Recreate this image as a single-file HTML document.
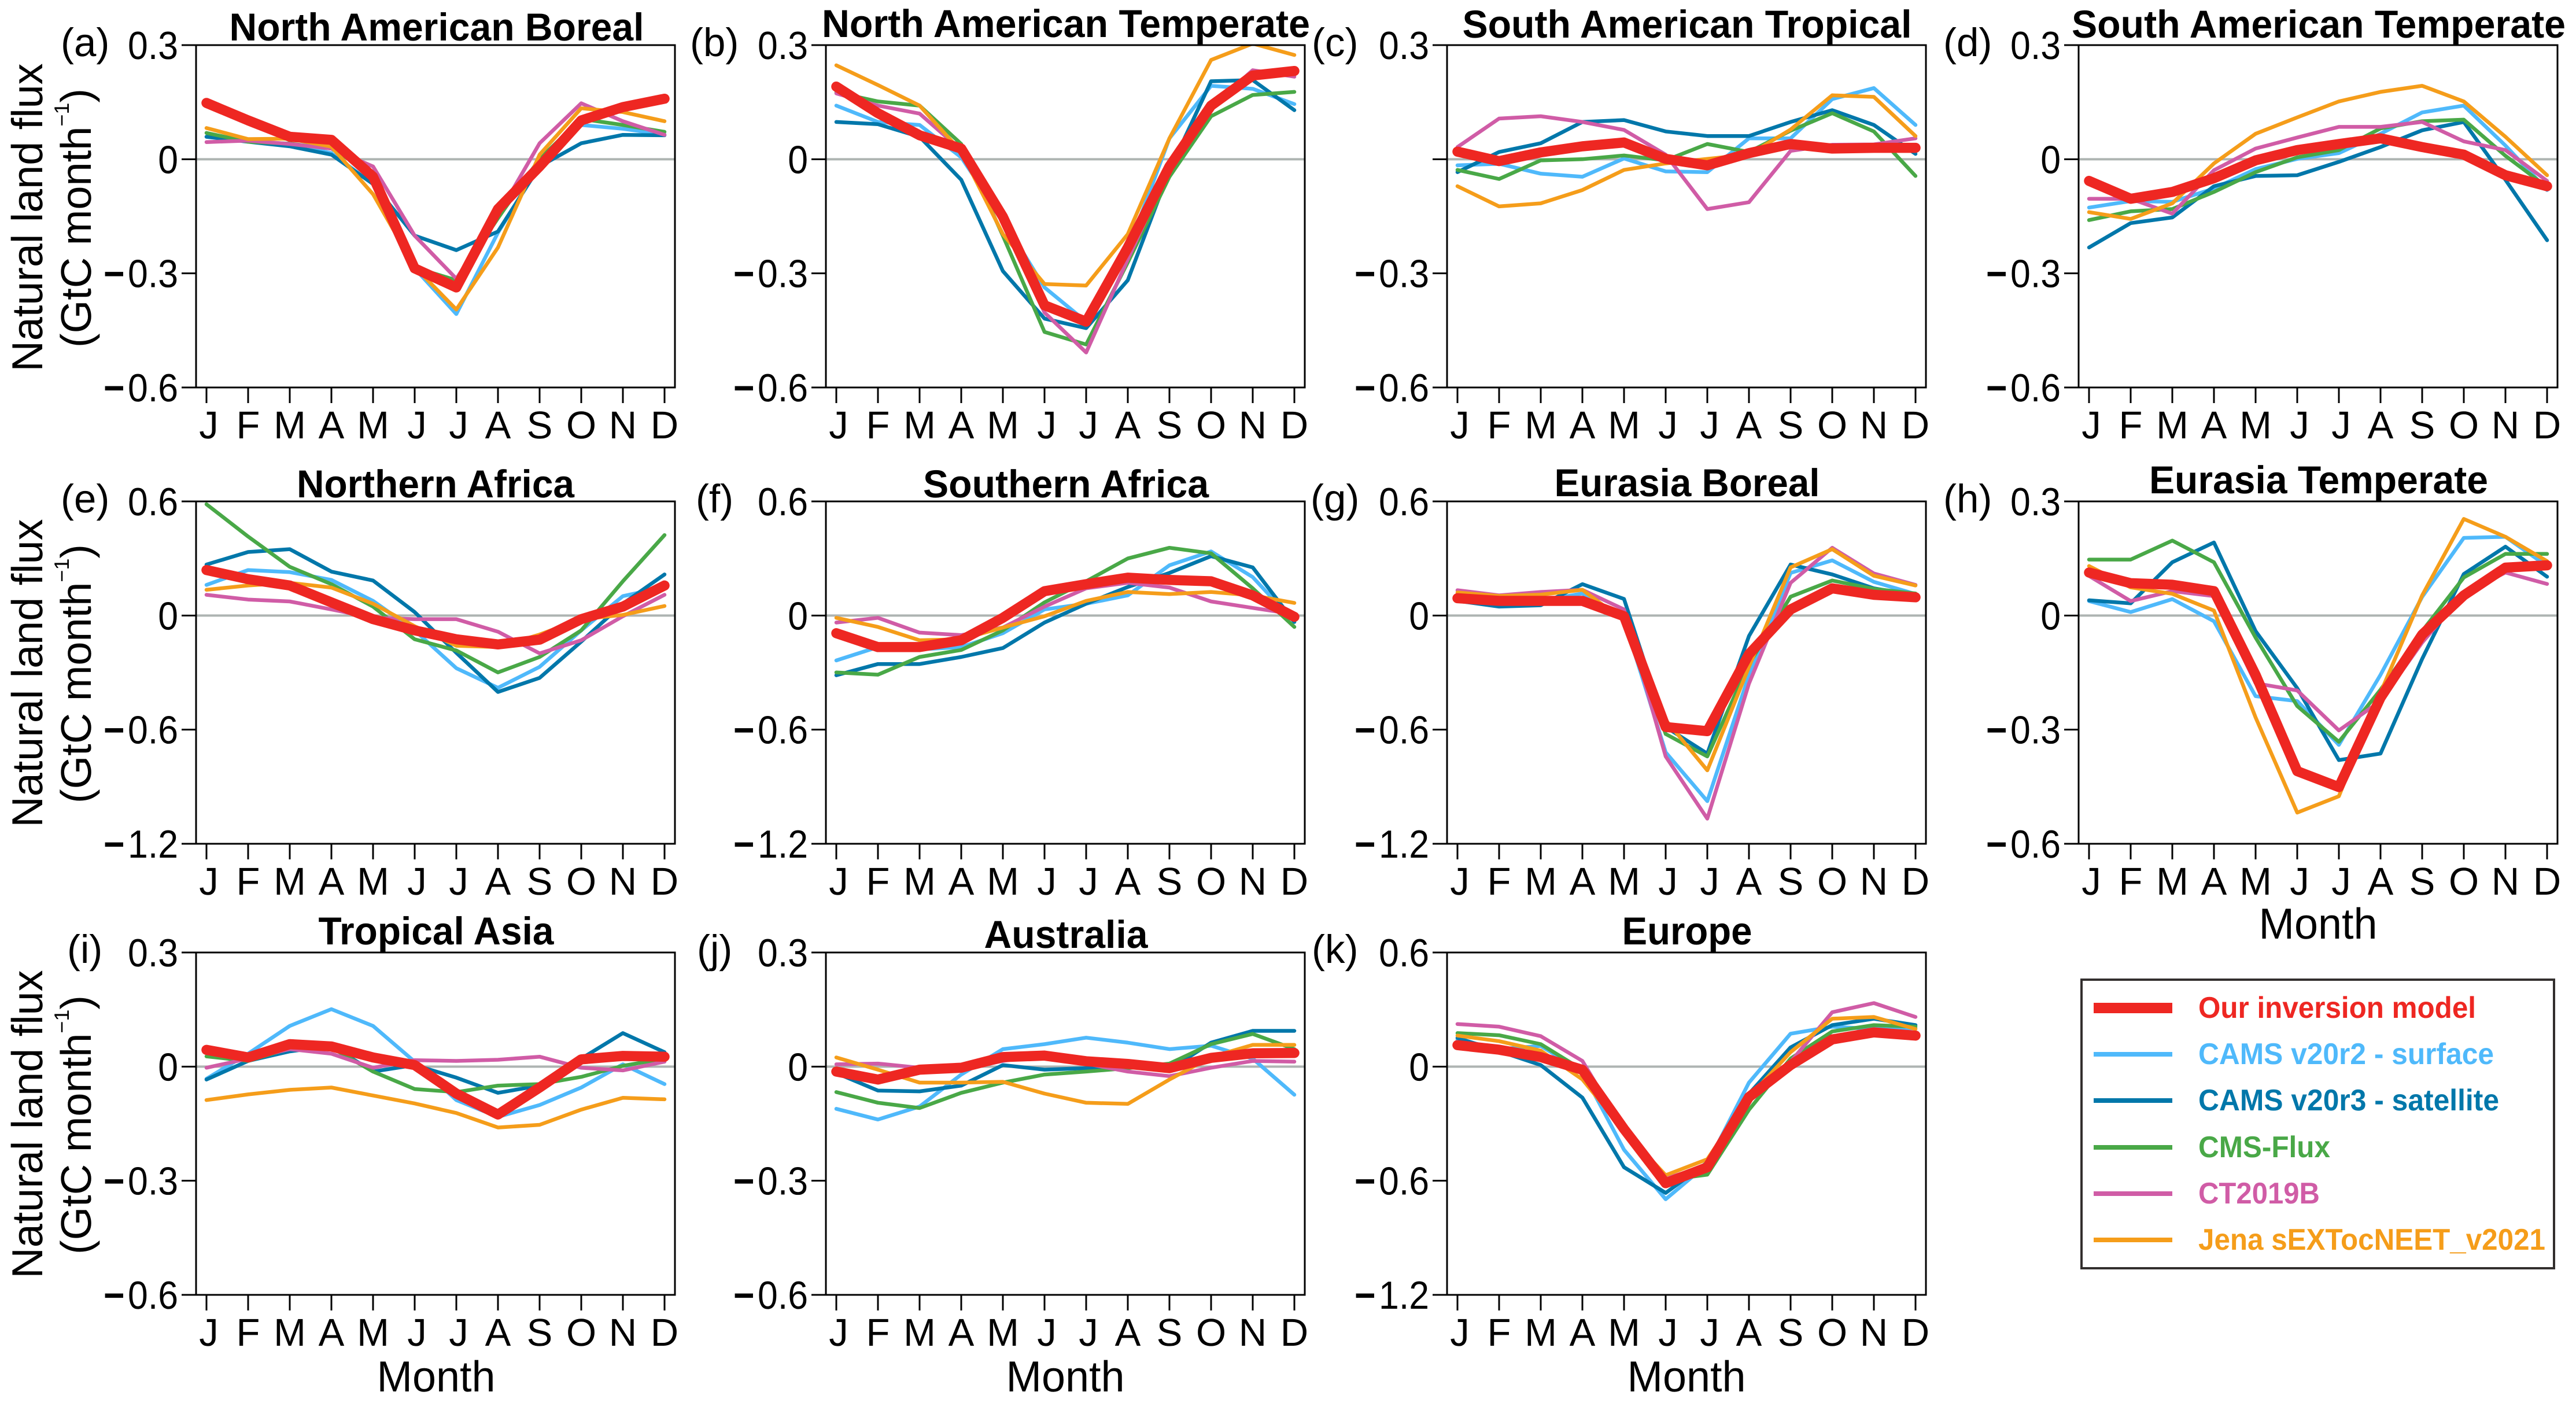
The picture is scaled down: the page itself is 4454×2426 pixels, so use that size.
<!DOCTYPE html>
<html lang="en">
<head>
<meta charset="utf-8">
<title>Natural land flux by region and month</title>
<style>
  html, body { margin: 0; padding: 0; background: #fff; }
  svg { display: block; font-family: "Liberation Sans", Arial, sans-serif; text-rendering: geometricPrecision; }
  .title { font-size: 67.5px; font-weight: 700; text-anchor: middle; fill: #000; }
  .letter { font-size: 69px; fill: #000; }
  .xlabel { font-size: 75px; text-anchor: middle; fill: #000; }
  .ylabel { font-size: 75px; text-anchor: middle; fill: #000; }
  .ylabel2 { font-size: 74px; text-anchor: middle; fill: #000; }
  .legend-text { font-size: 52px; font-weight: 700; }
</style>
</head>
<body>
<svg id="chart" xmlns="http://www.w3.org/2000/svg" width="4454" height="2426" viewBox="0 0 4454 2426">
  <rect x="0" y="0" width="4454" height="2426" fill="#fff"/>
  <g id="plots"></g>

  <g>
    <text class="title" x="755" y="70" textLength="717" lengthAdjust="spacingAndGlyphs">North American Boreal</text>
    <text class="title" x="1843" y="64" textLength="844" lengthAdjust="spacingAndGlyphs">North American Temperate</text>
    <text class="title" x="2917" y="65" textLength="777" lengthAdjust="spacingAndGlyphs">South American Tropical</text>
    <text class="title" x="4009" y="65" textLength="854" lengthAdjust="spacingAndGlyphs">South American Temperate</text>
    <text class="title" x="753" y="860" textLength="480" lengthAdjust="spacingAndGlyphs">Northern Africa</text>
    <text class="title" x="1843" y="860" textLength="494" lengthAdjust="spacingAndGlyphs">Southern Africa</text>
    <text class="title" x="2917" y="858" textLength="459" lengthAdjust="spacingAndGlyphs">Eurasia Boreal</text>
    <text class="title" x="4009" y="853" textLength="586" lengthAdjust="spacingAndGlyphs">Eurasia Temperate</text>
    <text class="title" x="754" y="1633" textLength="407" lengthAdjust="spacingAndGlyphs">Tropical Asia</text>
    <text class="title" x="1843" y="1639" textLength="283" lengthAdjust="spacingAndGlyphs">Australia</text>
    <text class="title" x="2917" y="1633" textLength="225" lengthAdjust="spacingAndGlyphs">Europe</text>
  </g>

  <g>
    <text class="letter" x="105" y="97">(a)</text>
    <text class="letter" x="1193" y="97">(b)</text>
    <text class="letter" x="2268" y="97">(c)</text>
    <text class="letter" x="3360" y="97">(d)</text>
    <text class="letter" x="105" y="886">(e)</text>
    <text class="letter" x="1203" y="886">(f)</text>
    <text class="letter" x="2266" y="886">(g)</text>
    <text class="letter" x="3360" y="886">(h)</text>
    <text class="letter" x="116" y="1665">(i)</text>
    <text class="letter" x="1205" y="1665">(j)</text>
    <text class="letter" x="2268" y="1665">(k)</text>
  </g>

  <g>
    <g>
      <text class="ylabel" transform="translate(73 376) rotate(-90)" textLength="533" lengthAdjust="spacingAndGlyphs">Natural land flux</text>
      <text class="ylabel2" transform="translate(157 377) rotate(-90)">(GtC month<tspan font-size="36" dy="-38">−1</tspan><tspan dy="38">)</tspan></text>
    </g>
    <g>
      <text class="ylabel" transform="translate(73 1164) rotate(-90)" textLength="533" lengthAdjust="spacingAndGlyphs">Natural land flux</text>
      <text class="ylabel2" transform="translate(157 1165) rotate(-90)">(GtC month<tspan font-size="36" dy="-38">−1</tspan><tspan dy="38">)</tspan></text>
    </g>
    <g>
      <text class="ylabel" transform="translate(73 1944) rotate(-90)" textLength="533" lengthAdjust="spacingAndGlyphs">Natural land flux</text>
      <text class="ylabel2" transform="translate(157 1945) rotate(-90)">(GtC month<tspan font-size="36" dy="-38">−1</tspan><tspan dy="38">)</tspan></text>
    </g>
  </g>

  <g>
    <text class="xlabel" x="4008" y="1623" textLength="205" lengthAdjust="spacingAndGlyphs">Month</text>
    <text class="xlabel" x="754" y="2406" textLength="205" lengthAdjust="spacingAndGlyphs">Month</text>
    <text class="xlabel" x="1842" y="2406" textLength="205" lengthAdjust="spacingAndGlyphs">Month</text>
    <text class="xlabel" x="2916" y="2406" textLength="205" lengthAdjust="spacingAndGlyphs">Month</text>
  </g>

  <g>
    <rect x="3599" y="1694" width="817" height="499" fill="#fff" stroke="#332f2e" stroke-width="4"/>
    <g>
      <line x1="3620" x2="3756" y1="1743" y2="1743" stroke="#ee2722" stroke-width="18"/>
      <text class="legend-text" x="3801" y="1760" fill="#ee2722" textLength="480" lengthAdjust="spacingAndGlyphs">Our inversion model</text>
    </g>
    <g>
      <line x1="3620" x2="3756" y1="1823" y2="1823" stroke="#4fb9fb" stroke-width="8"/>
      <text class="legend-text" x="3801" y="1840" fill="#4fb9fb" textLength="511" lengthAdjust="spacingAndGlyphs">CAMS v20r2 - surface</text>
    </g>
    <g>
      <line x1="3620" x2="3756" y1="1903" y2="1903" stroke="#0077aa" stroke-width="8"/>
      <text class="legend-text" x="3801" y="1920" fill="#0077aa" textLength="520" lengthAdjust="spacingAndGlyphs">CAMS v20r3 - satellite</text>
    </g>
    <g>
      <line x1="3620" x2="3756" y1="1984" y2="1984" stroke="#49a847" stroke-width="8"/>
      <text class="legend-text" x="3801" y="2001" fill="#49a847" textLength="228" lengthAdjust="spacingAndGlyphs">CMS-Flux</text>
    </g>
    <g>
      <line x1="3620" x2="3756" y1="2064" y2="2064" stroke="#d05ca6" stroke-width="8"/>
      <text class="legend-text" x="3801" y="2081" fill="#d05ca6" textLength="210" lengthAdjust="spacingAndGlyphs">CT2019B</text>
    </g>
    <g>
      <line x1="3620" x2="3756" y1="2144" y2="2144" stroke="#f59d1a" stroke-width="8"/>
      <text class="legend-text" x="3801" y="2161" fill="#f59d1a" textLength="600" lengthAdjust="spacingAndGlyphs">Jena sEXTocNEET_v2021</text>
    </g>
  </g>
</svg>

<script>
// ---- categories and tick labels ----
const months = ['J','F','M','A','M','J','J','A','S','O','N','D'];
const ticksNarrow = ['0.3','0','−0.3','−0.6'];
const ticksNarrowNoZero = ['0.3','','−0.3','−0.6'];
const tickValuesNarrow = [0.3, 0, -0.3, -0.6];
const ticksWide = ['0.6','0','−0.6','−1.2'];
const tickValuesWide = [0.6, 0, -0.6, -1.2];

// ---- (a) North American Boreal ----
const naBorealSurface = [0.059,0.047,0.04,0.016,-0.065,-0.287,-0.407,-0.193,-0.015,0.09,0.08,0.065];
const naBorealSatellite = [0.059,0.046,0.034,0.012,-0.065,-0.201,-0.239,-0.19,-0.019,0.042,0.064,0.063];
const naBorealCms = [0.069,0.046,0.041,0.028,-0.038,-0.285,-0.318,-0.155,0.001,0.106,0.09,0.072];
const naBorealCt = [0.045,0.049,0.04,0.028,-0.019,-0.201,-0.314,-0.147,0.042,0.147,0.1,0.064];
const naBorealJena = [0.082,0.053,0.054,0.033,-0.092,-0.283,-0.395,-0.232,0.012,0.134,0.124,0.1];
const naBorealOurs = [0.148,0.102,0.059,0.051,-0.046,-0.287,-0.337,-0.131,-0.019,0.102,0.137,0.159];

// ---- (b) North American Temperate ----
const naTemperateSurface = [0.141,0.098,0.09,0.005,-0.159,-0.337,-0.427,-0.24,0.055,0.193,0.185,0.145];
const naTemperateSatellite = [0.098,0.092,0.059,-0.054,-0.294,-0.419,-0.444,-0.318,-0.03,0.205,0.208,0.129];
const naTemperateCms = [0.176,0.152,0.141,0.04,-0.201,-0.454,-0.487,-0.271,-0.046,0.113,0.169,0.177];
const naTemperateCt = [0.173,0.141,0.12,0.024,-0.155,-0.403,-0.508,-0.263,-0.023,0.137,0.234,0.217];
const naTemperateJena = [0.247,0.195,0.141,0.02,-0.197,-0.328,-0.332,-0.197,0.055,0.261,0.304,0.274];
const naTemperateOurs = [0.191,0.121,0.063,0.028,-0.151,-0.384,-0.427,-0.232,-0.019,0.141,0.22,0.232];

// ---- (c) South American Tropical ----
const saTropicalSurface = [-0.016,-0.012,-0.038,-0.046,0.002,-0.032,-0.034,0.055,0.055,0.158,0.187,0.09];
const saTropicalSatellite = [-0.034,0.019,0.042,0.098,0.103,0.073,0.061,0.061,0.098,0.129,0.09,0.014];
const saTropicalCms = [-0.028,-0.052,-0.003,0,0.01,-0.003,0.04,0.019,0.075,0.121,0.073,-0.044];
const saTropicalCt = [0.032,0.107,0.113,0.098,0.077,0.012,-0.131,-0.113,0.022,0.038,0.039,0.055];
const saTropicalJena = [-0.071,-0.124,-0.116,-0.081,-0.028,-0.011,0.001,0.012,0.078,0.168,0.164,0.061];
const saTropicalOurs = [0.02,-0.005,0.018,0.034,0.044,0.001,-0.016,0.016,0.04,0.028,0.03,0.03];

// ---- (d) South American Temperate ----
const saTemperateSurface = [-0.127,-0.11,-0.112,-0.077,-0.026,0.001,0.016,0.067,0.123,0.141,0.036,-0.081];
const saTemperateSatellite = [-0.232,-0.168,-0.153,-0.071,-0.044,-0.042,-0.007,0.032,0.076,0.098,-0.054,-0.213];
const saTemperateCms = [-0.16,-0.137,-0.131,-0.086,-0.034,0.005,0.024,0.081,0.1,0.104,0.009,-0.073];
const saTemperateCt = [-0.104,-0.104,-0.143,-0.029,0.028,0.057,0.085,0.085,0.098,0.047,0.024,-0.057];
const saTemperateJena = [-0.139,-0.157,-0.116,-0.011,0.067,0.11,0.152,0.177,0.193,0.152,0.059,-0.042];
const saTemperateOurs = [-0.057,-0.104,-0.086,-0.05,-0.003,0.024,0.04,0.055,0.032,0.012,-0.042,-0.071];

// ---- (e) Northern Africa ----
const nAfricaSurface = [0.161,0.239,0.228,0.187,0.077,-0.078,-0.277,-0.38,-0.27,-0.078,0.102,0.15];
const nAfricaSatellite = [0.268,0.334,0.349,0.231,0.184,0.018,-0.196,-0.402,-0.328,-0.137,0.062,0.216];
const nAfricaCms = [0.585,0.415,0.256,0.165,0.047,-0.125,-0.184,-0.299,-0.218,-0.078,0.18,0.423];
const nAfricaCt = [0.109,0.084,0.074,0.032,-0.012,-0.019,-0.019,-0.085,-0.199,-0.13,-0.004,0.109];
const nAfricaJena = [0.135,0.158,0.172,0.147,0.062,-0.056,-0.159,-0.166,-0.1,-0.019,0.003,0.05];
const nAfricaOurs = [0.239,0.191,0.158,0.069,-0.019,-0.078,-0.125,-0.152,-0.127,-0.019,0.047,0.158];

// ---- (f) Southern Africa ----
const sAfricaSurface = [-0.236,-0.166,-0.178,-0.166,-0.093,0.032,0.062,0.106,0.264,0.337,0.202,-0.034];
const sAfricaSatellite = [-0.314,-0.255,-0.255,-0.218,-0.171,-0.037,0.062,0.15,0.224,0.312,0.253,-0.034];
const sAfricaCms = [-0.299,-0.311,-0.218,-0.181,-0.078,0.069,0.18,0.3,0.356,0.327,0.143,-0.06];
const sAfricaCt = [-0.037,-0.012,-0.09,-0.103,-0.063,0.047,0.143,0.172,0.147,0.074,0.04,0.007];
const sAfricaJena = [-0.012,-0.06,-0.13,-0.125,-0.063,-0.004,0.077,0.124,0.113,0.124,0.106,0.066];
const sAfricaOurs = [-0.093,-0.166,-0.166,-0.13,-0.012,0.128,0.165,0.199,0.187,0.18,0.106,-0.007];

// ---- (g) Eurasia Boreal ----
const euBorealSurface = [0.084,0.069,0.077,0.116,-0.019,-0.719,-0.976,-0.314,0.224,0.29,0.177,0.113];
const euBorealSatellite = [0.077,0.047,0.054,0.165,0.087,-0.586,-0.726,-0.108,0.268,0.216,0.143,0.106];
const euBorealCms = [0.091,0.084,0.091,0.091,-0.012,-0.623,-0.741,-0.255,0.099,0.184,0.14,0.116];
const euBorealCt = [0.133,0.106,0.124,0.135,0.032,-0.741,-1.068,-0.358,0.172,0.356,0.221,0.161];
const euBorealJena = [0.121,0.103,0.11,0.135,-0.027,-0.549,-0.814,-0.27,0.253,0.349,0.209,0.158];
const euBorealOurs = [0.091,0.077,0.077,0.077,-0.004,-0.586,-0.608,-0.203,0.032,0.143,0.109,0.096];

// ---- (h) Eurasia Temperate ----
const euTemperateSurface = [0.038,0.009,0.043,-0.015,-0.212,-0.225,-0.34,-0.156,0.049,0.204,0.207,0.13];
const euTemperateSatellite = [0.04,0.032,0.14,0.192,-0.041,-0.191,-0.38,-0.363,-0.114,0.109,0.181,0.102];
const euTemperateCms = [0.147,0.147,0.197,0.14,-0.058,-0.238,-0.332,-0.195,-0.041,0.1,0.162,0.162];
const euTemperateCt = [0.104,0.038,0.064,0.051,-0.178,-0.197,-0.302,-0.225,-0.071,0.057,0.113,0.083];
const euTemperateJena = [0.13,0.074,0.057,0.013,-0.268,-0.518,-0.475,-0.203,0.053,0.254,0.207,0.143];
const euTemperateOurs = [0.113,0.085,0.081,0.064,-0.156,-0.409,-0.451,-0.216,-0.05,0.053,0.126,0.132];

// ---- (i) Tropical Asia ----
const trAsiaSurface = [-0.032,0.034,0.107,0.151,0.107,0.013,-0.088,-0.132,-0.101,-0.055,0.006,-0.046];
const trAsiaSatellite = [-0.034,0.015,0.04,0.055,-0.013,0.004,-0.029,-0.069,-0.05,0.021,0.088,0.038];
const trAsiaCms = [0.027,0.015,0.048,0.05,-0.013,-0.059,-0.067,-0.05,-0.046,-0.027,0.002,0.021];
const trAsiaCt = [-0.003,0.021,0.046,0.034,-0.003,0.017,0.015,0.018,0.026,-0.003,-0.01,0.013];
const trAsiaJena = [-0.088,-0.073,-0.061,-0.055,-0.076,-0.097,-0.122,-0.16,-0.153,-0.113,-0.082,-0.086];
const trAsiaOurs = [0.044,0.024,0.059,0.053,0.024,0.004,-0.071,-0.126,-0.055,0.019,0.028,0.026];

// ---- (j) Australia ----
const australiaSurface = [-0.111,-0.139,-0.105,-0.021,0.046,0.059,0.076,0.063,0.046,0.055,0.021,-0.074];
const australiaSatellite = [-0.017,-0.063,-0.065,-0.05,0.004,-0.008,-0.004,0,-0.008,0.063,0.094,0.094];
const australiaCms = [-0.067,-0.095,-0.109,-0.069,-0.042,-0.021,-0.013,-0.004,0.008,0.059,0.086,0.046];
const australiaCt = [0.006,0.008,-0.003,-0.008,0.015,0.031,0.008,-0.013,-0.025,-0.003,0.015,0.013];
const australiaJena = [0.024,-0.008,-0.042,-0.042,-0.04,-0.071,-0.095,-0.098,-0.034,0.025,0.057,0.057];
const australiaOurs = [-0.013,-0.034,-0.008,-0.003,0.025,0.029,0.014,0.007,-0.004,0.023,0.035,0.036];

// ---- (k) Europe ----
const europeSurface = [0.143,0.092,0.109,-0.025,-0.437,-0.697,-0.513,-0.084,0.173,0.21,0.198,0.202];
const europeSatellite = [0.151,0.081,0.008,-0.163,-0.529,-0.664,-0.504,-0.143,0.101,0.218,0.252,0.218];
const europeCms = [0.176,0.165,0.118,-0.017,-0.345,-0.597,-0.568,-0.227,0.042,0.185,0.218,0.21];
const europeCt = [0.224,0.21,0.16,0.03,-0.336,-0.588,-0.521,-0.143,0.025,0.286,0.334,0.261];
const europeJena = [0.163,0.134,0.084,-0.067,-0.336,-0.571,-0.487,-0.16,0.076,0.252,0.261,0.198];
const europeOurs = [0.113,0.089,0.05,-0.017,-0.328,-0.613,-0.529,-0.16,0.008,0.143,0.18,0.163];

// ---- layout and drawing ----
const SVG_NS = 'http://www.w3.org/2000/svg';
const PLOT_WIDTH = 828;
const PLOT_HEIGHT = 592;
const MONTH_INSET = 18;
const columnLeft = [339, 1428, 2502, 3594];
const rowTop = [78, 867, 1647];

const seriesStyle = [
  { key: 'surface',   name: 'cams-surface',    color: '#4fb9fb', width: 6.5 },
  { key: 'satellite', name: 'cams-satellite',  color: '#0077aa', width: 6.5 },
  { key: 'cms',       name: 'cms-flux',        color: '#49a847', width: 6.5 },
  { key: 'ct',        name: 'ct2019b',         color: '#d05ca6', width: 6.5 },
  { key: 'jena',      name: 'jena',            color: '#f59d1a', width: 6.5 },
  { key: 'ours',      name: 'our-inversion',   color: '#ee2722', width: 17.5 }
];

const panels = [
  { id: 'a', col: 0, row: 0, labels: ticksNarrow, ticks: tickValuesNarrow,
    surface: naBorealSurface, satellite: naBorealSatellite, cms: naBorealCms, ct: naBorealCt, jena: naBorealJena, ours: naBorealOurs },
  { id: 'b', col: 1, row: 0, labels: ticksNarrow, ticks: tickValuesNarrow,
    surface: naTemperateSurface, satellite: naTemperateSatellite, cms: naTemperateCms, ct: naTemperateCt, jena: naTemperateJena, ours: naTemperateOurs },
  { id: 'c', col: 2, row: 0, labels: ticksNarrowNoZero, ticks: tickValuesNarrow,
    surface: saTropicalSurface, satellite: saTropicalSatellite, cms: saTropicalCms, ct: saTropicalCt, jena: saTropicalJena, ours: saTropicalOurs },
  { id: 'd', col: 3, row: 0, labels: ticksNarrow, ticks: tickValuesNarrow,
    surface: saTemperateSurface, satellite: saTemperateSatellite, cms: saTemperateCms, ct: saTemperateCt, jena: saTemperateJena, ours: saTemperateOurs },
  { id: 'e', col: 0, row: 1, labels: ticksWide, ticks: tickValuesWide,
    surface: nAfricaSurface, satellite: nAfricaSatellite, cms: nAfricaCms, ct: nAfricaCt, jena: nAfricaJena, ours: nAfricaOurs },
  { id: 'f', col: 1, row: 1, labels: ticksWide, ticks: tickValuesWide,
    surface: sAfricaSurface, satellite: sAfricaSatellite, cms: sAfricaCms, ct: sAfricaCt, jena: sAfricaJena, ours: sAfricaOurs },
  { id: 'g', col: 2, row: 1, labels: ticksWide, ticks: tickValuesWide,
    surface: euBorealSurface, satellite: euBorealSatellite, cms: euBorealCms, ct: euBorealCt, jena: euBorealJena, ours: euBorealOurs },
  { id: 'h', col: 3, row: 1, labels: ticksNarrow, ticks: tickValuesNarrow,
    surface: euTemperateSurface, satellite: euTemperateSatellite, cms: euTemperateCms, ct: euTemperateCt, jena: euTemperateJena, ours: euTemperateOurs },
  { id: 'i', col: 0, row: 2, labels: ticksNarrow, ticks: tickValuesNarrow,
    surface: trAsiaSurface, satellite: trAsiaSatellite, cms: trAsiaCms, ct: trAsiaCt, jena: trAsiaJena, ours: trAsiaOurs },
  { id: 'j', col: 1, row: 2, labels: ticksNarrow, ticks: tickValuesNarrow,
    surface: australiaSurface, satellite: australiaSatellite, cms: australiaCms, ct: australiaCt, jena: australiaJena, ours: australiaOurs },
  { id: 'k', col: 2, row: 2, labels: ticksWide, ticks: tickValuesWide,
    surface: europeSurface, satellite: europeSatellite, cms: europeCms, ct: europeCt, jena: europeJena, ours: europeOurs }
];

function make(tag, parent, name, attrs) {
  const el = document.createElementNS(SVG_NS, tag);
  for (const k in attrs) el.setAttribute(k, attrs[k]);
  
  
  parent.appendChild(el);
  return el;
}

function drawPanel(p) {
  const left = columnLeft[p.col];
  const top = rowTop[p.row];
  const right = left + PLOT_WIDTH;
  const bottom = top + PLOT_HEIGHT;
  const yMax = p.ticks[0];
  const yMin = p.ticks[p.ticks.length - 1];
  const xScale = i => left + MONTH_INSET + i * (PLOT_WIDTH - 2 * MONTH_INSET) / (months.length - 1);
  const yScale = v => top + (yMax - v) / (yMax - yMin) * PLOT_HEIGHT;

  const root = document.getElementById('plots');
  const g = make('g', root, 'panel-' + p.id, {});

  const clip = make('clipPath', g, 'panel-' + p.id + '-clip', { id: 'clip-' + p.id });
  make('rect', clip, 'panel-' + p.id + '-clip-rect', { x: left, y: top, width: PLOT_WIDTH, height: PLOT_HEIGHT });

  make('line', g, 'panel-' + p.id + '-zero-line', {
    x1: left, x2: right, y1: yScale(0), y2: yScale(0), stroke: '#aeb4b2', 'stroke-width': 4
  });

  const seriesGroup = make('g', g, 'panel-' + p.id + '-series', { 'clip-path': 'url(#clip-' + p.id + ')' });
  seriesStyle.forEach(s => {
    const pts = p[s.key].map((v, i) => xScale(i).toFixed(1) + ',' + yScale(v).toFixed(1)).join(' ');
    make('polyline', seriesGroup, 'panel-' + p.id + '-line-' + s.name, {
      points: pts, fill: 'none', stroke: s.color, 'stroke-width': s.width,
      'stroke-linejoin': 'round', 'stroke-linecap': 'round'
    });
  });

  make('rect', g, 'panel-' + p.id + '-frame', {
    x: left, y: top, width: PLOT_WIDTH, height: PLOT_HEIGHT, fill: 'none', stroke: '#000', 'stroke-width': 3
  });

  const yAxis = make('g', g, 'panel-' + p.id + '-y-axis', {});
  p.ticks.forEach((v, i) => {
    const y = yScale(v);
    make('line', yAxis, 'panel-' + p.id + '-y-tick', {
      x1: left - 25, x2: left, y1: y, y2: y, stroke: '#000', 'stroke-width': 3
    });
    const label = p.labels[i];
    if (label) {
      const t = make('text', yAxis, 'panel-' + p.id + '-y-tick-label', {
        transform: 'translate(' + (left - 31) + ' ' + (y + 24) + ') scale(0.92 1)',
        'font-size': 68, 'text-anchor': 'end', fill: '#000'
      });
      if (label.charAt(0) === '−') {
        const minus = make('tspan', t, 'panel-' + p.id + '-y-tick-minus', { 'font-weight': 700 });
        minus.textContent = '−';
        const digits = make('tspan', t, 'panel-' + p.id + '-y-tick-digits', { dx: 6 });
        digits.textContent = label.slice(1);
      } else {
        t.textContent = label;
      }
    }
  });

  const xAxis = make('g', g, 'panel-' + p.id + '-x-axis', {});
  months.forEach((m, i) => {
    const x = xScale(i);
    make('line', xAxis, 'panel-' + p.id + '-x-tick', {
      x1: x, x2: x, y1: bottom, y2: bottom + 27, stroke: '#000', 'stroke-width': 3
    });
    const t = make('text', xAxis, 'panel-' + p.id + '-x-tick-label', {
      x: m === 'J' ? x + 4 : x, y: bottom + 88, 'font-size': 67, 'text-anchor': 'middle', fill: '#000'
    });
    t.textContent = m;
  });
}

panels.forEach(drawPanel);
</script>
</body>
</html>
